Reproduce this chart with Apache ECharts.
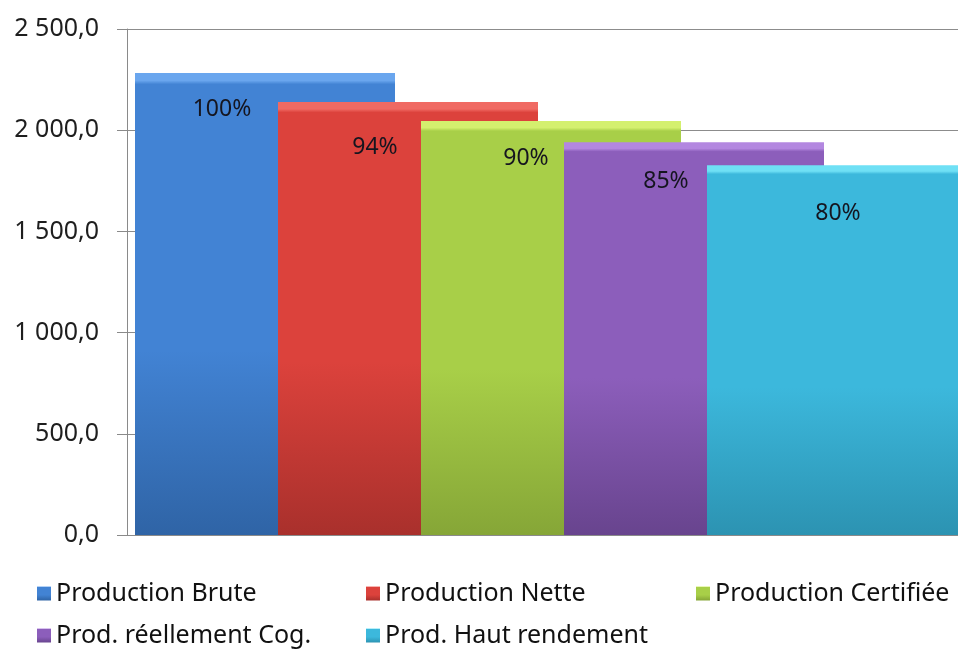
<!DOCTYPE html>
<html>
<head>
<meta charset="utf-8">
<script src="https://cdn.jsdelivr.net/npm/echarts@6/dist/echarts.min.js"></script>
<style>
  html, body { margin: 0; padding: 0; background: #ffffff; overflow: hidden; }
  #chart { width: 1000px; height: 653px; }
</style>
</head>
<body>
<div id="chart"></div>
<script>
// Production stages (one category, five overlapping bars)
const seriesNames = [
  'Production Brute',
  'Production Nette',
  'Production Certifiée',
  'Prod. réellement Cog.',
  'Prod. Haut rendement'
];
const seriesValues = [2282, 2139, 2045, 1941, 1827];
const categories = [''];
const yTicks = { min: 0, max: 2500, interval: 500 };

// Bar palette: top bevel, body, base
const palette = [
  ['#6aa6ee', '#4283d4', '#2f64a6'],
  ['#f06a63', '#dc423c', '#a9302c'],
  ['#d4f06e', '#a8cf48', '#86a637'],
  ['#b387e0', '#8c5ebb', '#68448e'],
  ['#6fe0f5', '#3cb8dc', '#2c93b2']
];
// Percentage label placement inside each bar
const labelShift = [[-43, 25], [-33, 34], [-25, 26], [-28, 28], [1, 37]];
// Legend item anchors (two rows)
const legendPos = [[37, 580], [366, 580], [696, 580], [37, 622], [366, 622]];

const FONT = '"Noto Sans", "Open Sans", sans-serif';

function fmtAxis(v) {
  return Math.round(v).toString().replace(/\B(?=(\d{3})+(?!\d))/g, ' ') + ',0';
}

function grad(c) {
  return new echarts.graphic.LinearGradient(0, 0, 0, 1, [
    { offset: 0, color: c[0] },
    { offset: 0.016, color: c[0] },
    { offset: 0.024, color: c[1] },
    { offset: 0.6, color: c[1] },
    { offset: 1, color: c[2] }
  ]);
}

const base = seriesValues[0];

const series = seriesNames.map((name, i) => ({
  name: name,
  type: 'bar',
  barWidth: 260,
  barGap: '-45%',
  data: [seriesValues[i]],
  itemStyle: { color: grad(palette[i]) },
  label: {
    show: true,
    position: 'insideTop',
    distance: 0,
    offset: labelShift[i],
    fontFamily: FONT,
    fontSize: 23,
    color: '#15151f',
    formatter: p => Math.round(p.value / base * 100) + '%'
  },
  emphasis: { disabled: true }
}));

const legends = seriesNames.map((name, i) => ({
  data: [name],
  left: legendPos[i][0],
  top: legendPos[i][1],
  padding: 0,
  icon: 'rect',
  itemWidth: 14,
  itemHeight: 14,
  itemGap: 5,
  selectedMode: false,
  textStyle: { fontFamily: FONT, fontSize: 25, color: '#111111', lineHeight: 27 }
}));

const chart = echarts.init(document.getElementById('chart'), null, { renderer: 'canvas' });
chart.setOption({
  animation: false,
  backgroundColor: '#ffffff',
  grid: { left: 127, top: 29, width: 848, height: 506, containLabel: false },
  legend: legends,
  xAxis: {
    type: 'category',
    data: categories,
    axisLine: { show: true, lineStyle: { color: '#8a8a8a', width: 1 } },
    axisTick: { show: false },
    axisLabel: { show: false },
    splitLine: { show: false }
  },
  yAxis: {
    type: 'value',
    min: yTicks.min,
    max: yTicks.max,
    interval: yTicks.interval,
    axisLine: { show: true, lineStyle: { color: '#8a8a8a', width: 1 } },
    axisTick: { show: true, inside: false, length: 10, lineStyle: { color: '#8a8a8a' } },
    axisLabel: {
      margin: 28,
      fontFamily: FONT,
      fontSize: 25,
      color: '#1e1e1e',
      formatter: fmtAxis
    },
    splitLine: { show: true, lineStyle: { color: '#8c8c8c', width: 1 } }
  },
  series: series
});
</script>
</body>
</html>
